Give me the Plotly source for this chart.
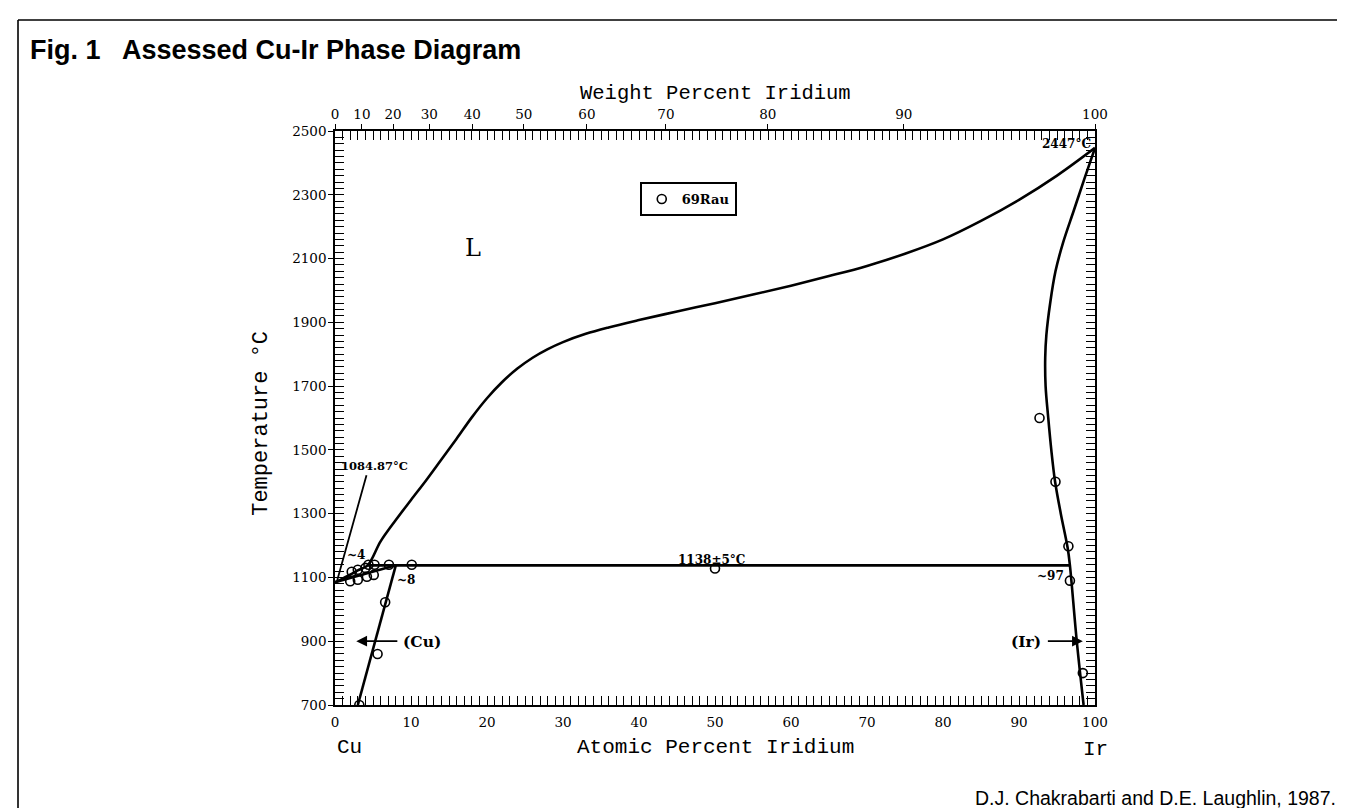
import plotly.graph_objects as go

# ---------------- data ----------------
# Liquidus
liq_x = [0, 1, 2, 3, 4.3, 6, 8, 10, 12, 14, 16, 18, 20, 22, 24, 26, 28, 30, 33, 36,
         40, 45, 50, 55, 60, 65, 70, 75, 80, 85, 90, 95, 100]
liq_T = [1084.87, 1096, 1109, 1122, 1138, 1213, 1280, 1343, 1405, 1470, 1535, 1602,
         1662, 1713, 1755, 1789, 1816, 1838, 1864, 1884, 1907, 1934, 1960, 1987,
         2015, 2045, 2077, 2115, 2160, 2218, 2284, 2360, 2447]
# (Cu) solidus and solvus
cu_sol_x = [0, 8]
cu_sol_T = [1084.87, 1138]
cu_solvus_x = [8, 3.0]
cu_solvus_T = [1138, 700]
# Peritectic horizontal
per_x = [4.3, 96.7]
per_T = [1138, 1138]
# (Ir) solidus / solvus
ir_x = [100, 98.6, 97.2, 95.8, 94.8, 94.1, 93.6, 93.45, 93.5, 93.85, 94.25, 94.75,
        95.5, 96.4, 96.7, 97.6, 98.5]
ir_T = [2447, 2350, 2250, 2150, 2060, 1960, 1860, 1790, 1700, 1600, 1500, 1400,
        1300, 1193, 1138, 900, 700]
# Experimental points (69Rau)
rau_x = [2.0, 2.2, 3.0, 3.0, 4.0, 4.2, 4.4, 5.2, 5.1, 7.1, 10.1, 6.6, 5.6, 3.2,
         50.0, 92.7, 94.8, 96.5, 96.7, 98.4]
rau_T = [1088, 1118, 1124, 1093, 1130, 1102, 1140, 1140, 1108, 1140, 1140, 1022, 860, 700,
         1128, 1600, 1400, 1198, 1090, 800]

# Axis ticks
y_ticks = [700, 900, 1100, 1300, 1500, 1700, 1900, 2100, 2300, 2500]
x_ticks = [0, 10, 20, 30, 40, 50, 60, 70, 80, 90, 100]
wt_ticks = [0, 10, 20, 30, 40, 50, 60, 70, 80, 90, 100]
M_CU, M_IR = 63.546, 192.217


def wt_to_at(w):
    if w >= 100:
        return 100.0
    a = w / M_IR
    b = (100 - w) / M_CU
    return 100.0 * a / (a + b)


wt_pos = [wt_to_at(w) for w in wt_ticks]

SERIF = "DejaVu Serif"
MONO = "Liberation Mono"
SANS = "Liberation Sans"
LW = 2.6

fig = go.Figure()
for xs, ts in [(liq_x, liq_T), (cu_sol_x, cu_sol_T), (cu_solvus_x, cu_solvus_T),
               (per_x, per_T), (ir_x, ir_T)]:
    fig.add_trace(go.Scatter(x=xs, y=ts, mode="lines",
                             line=dict(color="black", width=LW, shape="spline", smoothing=1.0),
                             showlegend=False, hoverinfo="skip"))

fig.add_trace(go.Scatter(x=rau_x, y=rau_T, mode="markers", name="<b>69Rau</b>",
                         marker=dict(symbol="circle-open", size=9, color="black", line=dict(width=1.6))))

# invisible traces for the top axis and the outer y ticks
fig.add_trace(go.Scatter(x=[0, 100], y=[700, 700], xaxis="x2", mode="markers",
                         marker=dict(opacity=0), showlegend=False, hoverinfo="skip"))
fig.add_trace(go.Scatter(x=[0, 100], y=[700, 700], yaxis="y2", mode="markers",
                         marker=dict(opacity=0), showlegend=False, hoverinfo="skip"))

tickfont = dict(family=SERIF, size=13.5, color="black")
fig.update_layout(
    width=1345, height=808,
    margin=dict(l=327, r=258, t=123, b=111),
    paper_bgcolor="white", plot_bgcolor="white",
    xaxis=dict(range=[0, 100], tickvals=x_ticks, ticks="inside", ticklen=9, tickwidth=1.3,
               minor=dict(dtick=1, ticks="inside", ticklen=4, tickwidth=1, tickcolor="black"),
               showline=True, linecolor="black", linewidth=1.6, mirror="allticks",
               showgrid=False, zeroline=False, tickfont=tickfont, tickcolor="black",
               ticklabelstandoff=4),
    xaxis2=dict(range=[0, 100], overlaying="x", side="top", tickvals=wt_pos,
                ticktext=[str(w) for w in wt_ticks], ticks="outside", ticklen=6,
                tickcolor="black", tickwidth=1.2, showgrid=False, zeroline=False,
                showline=False, tickfont=tickfont),
    yaxis=dict(range=[700, 2500], tickvals=y_ticks, ticks="inside", ticklen=9, tickwidth=1.3,
               minor=dict(dtick=20, ticks="inside", ticklen=4, tickwidth=1, tickcolor="black"),
               showline=True, linecolor="black", linewidth=1.6, mirror="allticks",
               showgrid=False, zeroline=False, tickfont=tickfont, tickcolor="black",
               ticklabelstandoff=4),
    yaxis2=dict(range=[700, 2500], overlaying="y", side="left", tickvals=y_ticks,
                ticks="outside", ticklen=6, tickwidth=1.3, tickcolor="black",
                showticklabels=False, showgrid=False, zeroline=False, showline=False),
    legend=dict(x=0.401, y=0.911, xanchor="left", yanchor="top", bordercolor="black",
                borderwidth=2, bgcolor="white", font=dict(family=SERIF, size=13, color="black"),
                itemwidth=30, tracegroupgap=0),
    showlegend=True,
)

ann = []
def txt(x, y, s, size=12, font=SERIF, xanchor="center", yanchor="middle", xref="x", yref="y", angle=0, bold=True):
    ann.append(dict(x=x, y=y, xref=xref, yref=yref, text=(f"<b>{s}</b>" if bold else s), showarrow=False,
                    xanchor=xanchor, yanchor=yanchor, textangle=angle,
                    font=dict(family=font, size=size, color="black")))

# in-plot labels
txt(0.5, 1450, "1084.87°C", size=11.5, xanchor="left")
txt(2.7, 1171, "~4")
txt(9.3, 1092, "~8")
txt(94.2, 1106, "~97")
txt(49.6, 1156, "1138±5°C")
txt(99.7, 2458, "2447°C", xanchor="right")
txt(18.2, 2133, "L", size=24, bold=False)
txt(8.7, 900, "(Cu)", size=15.5, xanchor="left")
txt(93.2, 900, "(Ir)", size=15.5, xanchor="right")

# arrows / leader lines
ann.append(dict(x=2.8, y=900, ax=8.4, ay=900, xref="x", yref="y", axref="x", ayref="y", text="",
                showarrow=True, arrowhead=2, arrowsize=1.2, arrowwidth=1.8, arrowcolor="black"))
ann.append(dict(x=98.4, y=900, ax=93.6, ay=900, xref="x", yref="y", axref="x", ayref="y", text="",
                showarrow=True, arrowhead=2, arrowsize=1.2, arrowwidth=1.8, arrowcolor="black"))
ann.append(dict(x=0.3, y=1092, ax=4.2, ay=1425, xref="x", yref="y", axref="x", ayref="y", text="",
                showarrow=True, arrowhead=0, arrowwidth=1.8, arrowcolor="black"))

# axis titles and labels
txt(0.5, 1.0662, "Weight Percent Iridium", size=20.5, font=MONO, xref="paper", yref="paper", bold=False)
txt(0.5, -0.0749, "Atomic Percent Iridium", size=21, font=MONO, xref="paper", yref="paper", bold=False)
txt(-0.096, 0.49, "Temperature °C", size=22, font=MONO, xref="paper", yref="paper", angle=-90, bold=False)
txt(0.0, -0.0749, "Cu", size=21, font=MONO, xref="paper", yref="paper", xanchor="left", bold=False)
txt(1.0, -0.078, "Ir", size=21, font=MONO, xref="paper", yref="paper", bold=False)

# title and credit
txt(-0.4039, 1.1411, "Fig. 1", size=27, font=SANS, xref="paper", yref="paper", xanchor="left")
txt(-0.2829, 1.1411, "Assessed Cu-Ir Phase Diagram", size=27, font=SANS, xref="paper", yref="paper",
    xanchor="left")
txt(1.3197, -0.162, "D.J. Chakrabarti and D.E. Laughlin, 1987.", size=19.5, font=SANS, xref="paper",
    yref="paper", xanchor="right", bold=False)

fig.update_layout(annotations=ann)

# frame lines
fig.add_shape(type="line", xref="paper", yref="paper", x0=-0.4171, x1=1.35, y0=1.1934, y1=1.1934,
              line=dict(color="black", width=1.6))
fig.add_shape(type="line", xref="paper", yref="paper", x0=-0.4171, x1=-0.4171, y0=1.1934, y1=-0.2,
              line=dict(color="black", width=1.6))

fig.write_html("out.html")
